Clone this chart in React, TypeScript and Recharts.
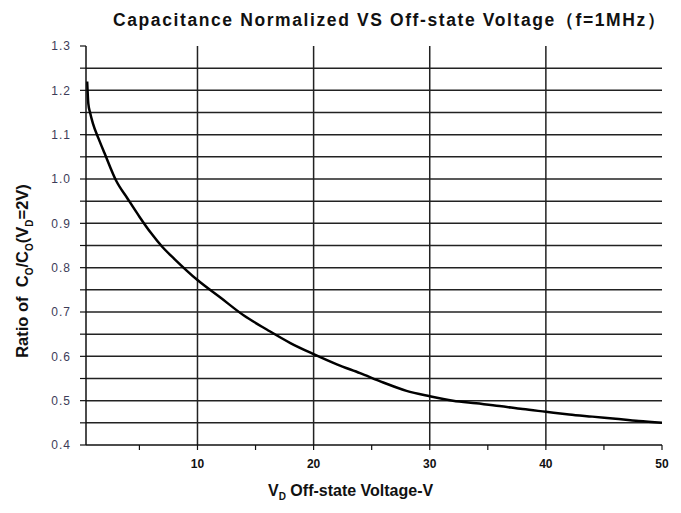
import React from "react";
import {
  LineChart,
  Line,
  XAxis,
  YAxis,
  ReferenceLine,
} from "recharts";

// off-state voltage (V) and normalized capacitance
const voltage = [
  0.5, 0.6, 0.75, 1, 1.5, 2, 3, 4, 5, 6, 7, 8, 10, 12, 14, 16, 18, 20, 22, 24,
  26, 28, 30, 32, 34, 36, 38, 40, 42, 44, 46, 48, 50,
];
const ratio = [
  1.22, 1.17, 1.15, 1.125, 1.09, 1.058, 0.996, 0.955, 0.915, 0.878, 0.846,
  0.82, 0.772, 0.732, 0.692, 0.66, 0.63, 0.605, 0.582, 0.562, 0.541, 0.522,
  0.51, 0.5, 0.494, 0.488, 0.481, 0.475, 0.469, 0.464, 0.459, 0.454, 0.45,
];

const xTicks = [5, 10, 15, 20, 25, 30, 35, 40, 45, 50];
const yTicks = [
  0.4, 0.45, 0.5, 0.55, 0.6, 0.65, 0.7, 0.75, 0.8, 0.85, 0.9, 0.95, 1.0, 1.05,
  1.1, 1.15, 1.2, 1.25, 1.3,
];
const gridX = [10, 20, 30, 40];
const gridY = [
  0.45, 0.5, 0.55, 0.6, 0.65, 0.7, 0.75, 0.8, 0.85, 0.9, 0.95, 1.0, 1.05, 1.1,
  1.15, 1.2, 1.25,
];

const data = voltage.map((v, i) => ({ v, r: ratio[i] }));

const font = '"Liberation Sans", Arial, sans-serif';

export default function App() {
  return (
    <div style={{ position: "relative", width: 681, height: 513, fontFamily: font, background: "#fff" }}>
      <style>{"body{margin:0}"}</style>
      <div
        style={{
          position: "absolute",
          left: 113,
          width: 548,
          top: 8,
          textAlign: "center",
          fontWeight: "bold",
          fontSize: 17.5,
          letterSpacing: 1.6,
          color: "#111",
          whiteSpace: "nowrap",
        }}
      >
        Capacitance Normalized VS Off-state Voltage（f=1MHz）
      </div>
      <LineChart
        width={681}
        height={513}
        data={data}
        margin={{ top: 46, right: 19, left: 36, bottom: 38 }}
      >
        <XAxis
          type="number"
          dataKey="v"
          domain={[0.4, 50]}
          ticks={xTicks}
          allowDataOverflow
          height={30}
          tickSize={5}
          tickMargin={9}
          tickFormatter={(t: number) => (t % 10 === 0 ? String(t) : "")}
          tick={{ fill: "#111", fontSize: 12, fontWeight: "bold", fontFamily: font }}
          axisLine={{ stroke: "#111", strokeWidth: 1.5 }}
          tickLine={{ stroke: "#111", strokeWidth: 1.2 }}
        />
        <YAxis
          type="number"
          domain={[0.4, 1.3]}
          ticks={yTicks}
          width={50}
          tickSize={6}
          tickMargin={9}
          tickFormatter={(t: number) =>
            Math.round(t * 100) % 10 === 0 ? t.toFixed(1) : ""
          }
          tick={{ fill: "#3c3c58", fontSize: 12, fontFamily: font, letterSpacing: 1 }}
          axisLine={{ stroke: "#111", strokeWidth: 1.5 }}
          tickLine={{ stroke: "#111", strokeWidth: 1.2 }}
        />
        {gridY.map((y) => (
          <ReferenceLine key={"h" + y} y={y} stroke="#222" strokeWidth={1.5} />
        ))}
        {gridX.map((x) => (
          <ReferenceLine key={"v" + x} x={x} stroke="#222" strokeWidth={1.5} />
        ))}
        <Line
          type="monotone"
          dataKey="r"
          stroke="#000"
          strokeWidth={2.5}
          dot={false}
          isAnimationActive={false}
        />
      </LineChart>
      <div
        style={{
          position: "absolute",
          left: 268,
          top: 482,
          fontWeight: "bold",
          fontSize: 16,
          color: "#111",
          whiteSpace: "nowrap",
        }}
      >
        V<sub style={{ fontSize: 10 }}>D</sub> Off-state Voltage-V
      </div>
      <div
        style={{
          position: "absolute",
          left: 24,
          top: 271,
          transform: "translate(-50%, -50%) rotate(-90deg)",
          fontWeight: "bold",
          fontSize: 16.5,
          color: "#111",
          whiteSpace: "nowrap",
        }}
      >
        Ratio of&nbsp; C<sub style={{ fontSize: 10 }}>O</sub>/C
        <sub style={{ fontSize: 10 }}>O</sub>(V<sub style={{ fontSize: 10 }}>D</sub>=2V)
      </div>
    </div>
  );
}
